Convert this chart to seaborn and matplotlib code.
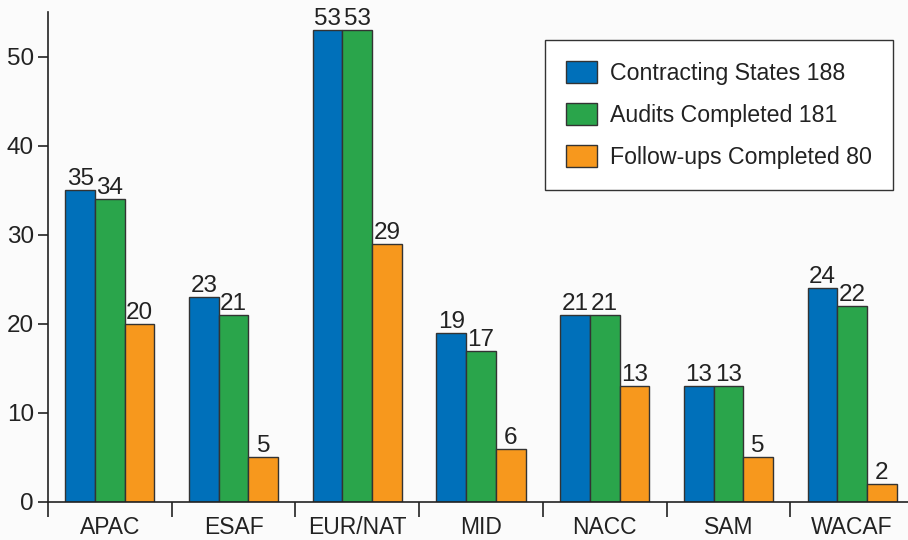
import numpy as np
import pandas as pd
import matplotlib
matplotlib.use("Agg")
import matplotlib.pyplot as plt
import seaborn as sns
from matplotlib.ticker import FixedLocator, NullFormatter

regions = ["APAC", "ESAF", "EUR/NAT", "MID", "NACC", "SAM", "WACAF"]
contracting_states = [35, 23, 53, 19, 21, 13, 24]
audits_completed = [34, 21, 53, 17, 21, 13, 22]
followups_completed = [20, 5, 29, 6, 13, 5, 2]

series_names = ["Contracting States", "Audits Completed", "Follow-ups Completed"]
series_values = [contracting_states, audits_completed, followups_completed]
series_colors = ["#0070BA", "#2AA54B", "#F7981D"]

labels = [f"{n} {sum(v)}" for n, v in zip(series_names, series_values)]
df = pd.DataFrame({
    "Region": np.tile(regions, len(series_names)),
    "Series": np.repeat(labels, len(regions)),
    "Value": np.concatenate(series_values),
})

sns.set_theme(style="white")
plt.rcParams["font.family"] = ["Liberation Sans", "DejaVu Sans"]
text_color = "#222222"
bg = "#FBFBFB"

fig = plt.figure(figsize=(9.08, 5.40), dpi=100, facecolor=bg)
ax = fig.add_axes([48 / 908, 38 / 540, 866 / 908, 490 / 540], facecolor=bg)

sns.barplot(data=df, x="Region", y="Value", hue="Series", order=regions,
            hue_order=labels, palette=series_colors, width=0.72, gap=0,
            edgecolor="#333333", linewidth=1.0, saturation=1, ax=ax)

for cont in ax.containers:
    ax.bar_label(cont, fmt="%d", padding=0, fontsize=17.5, color=text_color)

ax.set_xlim(-0.5, len(regions) - 0.5)
ax.set_ylim(0, 55)
ax.set_yticks(range(0, 51, 10))
ax.set_xlabel("")
ax.set_ylabel("")

for side in ["top", "right"]:
    ax.spines[side].set_visible(False)
for side in ["left", "bottom"]:
    ax.spines[side].set_color("#222222")
    ax.spines[side].set_linewidth(1.2)

ax.tick_params(axis="y", direction="out", length=7, width=1.2, color="#222222",
               labelsize=17.5, labelcolor=text_color, pad=3, left=True)
ax.tick_params(axis="x", which="major", length=0, labelsize=16.5,
               labelcolor=text_color, pad=10, bottom=True)
ax.xaxis.set_minor_locator(FixedLocator(np.arange(-0.5, len(regions), 1.0)))
ax.xaxis.set_minor_formatter(NullFormatter())
ax.tick_params(axis="x", which="minor", direction="out", length=11, width=1.2,
               color="#222222", bottom=True)

leg = ax.legend(loc="upper left", bbox_to_anchor=(497 / 866, 1 - 28 / 490),
                fontsize=16.7, frameon=True, fancybox=False, borderpad=0.9,
                handlelength=1.35, handleheight=1.1, handletextpad=0.55,
                labelspacing=0.78, borderaxespad=0)
leg.get_frame().set_edgecolor("#333333")
leg.get_frame().set_linewidth(1.0)
leg.get_frame().set_facecolor("white")
leg.get_frame().set_alpha(1)
for t in leg.get_texts():
    t.set_color(text_color)

fig.savefig("out.png", dpi=100, facecolor=bg)
